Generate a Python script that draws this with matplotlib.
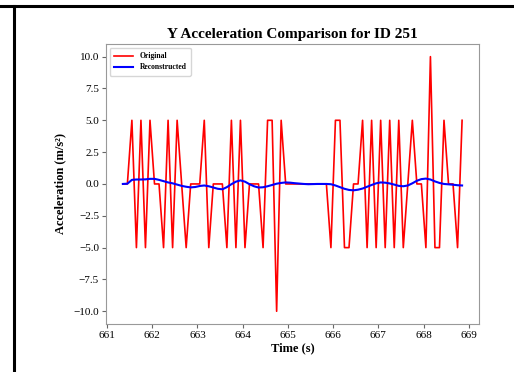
import matplotlib
matplotlib.use("Agg")
from matplotlib import pyplot as plt
from matplotlib.lines import Line2D

plt.rcParams['font.family'] = 'serif'
plt.rcParams['font.serif'] = ['Liberation Serif', 'DejaVu Serif']

# sample times (s)
time = [
    661.35, 661.45, 661.55, 661.65, 661.75, 661.85, 661.95, 662.05, 662.15, 662.25,
    662.35, 662.45, 662.55, 662.65, 662.75, 662.85, 662.95, 663.05, 663.15, 663.25,
    663.35, 663.45, 663.55, 663.65, 663.75, 663.85, 663.95, 664.05, 664.15, 664.25,
    664.35, 664.45, 664.55, 664.65, 664.75, 664.85, 664.95, 665.05, 665.15, 665.25,
    665.35, 665.45, 665.55, 665.65, 665.75, 665.85, 665.95, 666.05, 666.15, 666.25,
    666.35, 666.45, 666.55, 666.65, 666.75, 666.85, 666.95, 667.05, 667.15, 667.25,
    667.35, 667.45, 667.55, 667.65, 667.75, 667.85, 667.95, 668.05, 668.15, 668.25,
    668.35, 668.45, 668.55, 668.65, 668.75, 668.85,
]

original = [
    0, 0, 5, -5, 5, -5, 5, 0, 0, -5,
    5, -5, 5, 0, -5, 0, 0, 0, 5, -5,
    0, 0, 0, -5, 5, -5, 5, -5, 0, 0,
    0, -5, 5, 5, -10, 5, 0, 0, 0, 0,
    0, 0, 0, 0, 0, 0, -5, 5, 5, -5,
    -5, 0, 0, 5, -5, 5, -5, 5, -5, 5,
    -5, 5, -5, 0, 5, 0, 0, -5, 10, -5,
    -5, 5, 0, 0, -5, 5,
]

reconstructed = [
    0.00, 0.02, 0.32, 0.35, 0.35, 0.36, 0.40, 0.40, 0.32, 0.22,
    0.12, 0.05, -0.05, -0.15, -0.22, -0.27, -0.24, -0.16, -0.12, -0.18,
    -0.28, -0.38, -0.42, -0.25, -0.02, 0.18, 0.28, 0.18, -0.02, -0.18,
    -0.28, -0.26, -0.18, -0.08, 0.02, 0.08, 0.12, 0.10, 0.06, 0.03,
    0.00, -0.02, -0.01, 0.00, 0.00, 0.00, -0.02, -0.12, -0.25, -0.38,
    -0.47, -0.50, -0.45, -0.36, -0.22, -0.08, 0.05, 0.12, 0.10, 0.04,
    -0.05, -0.15, -0.18, -0.12, 0.05, 0.25, 0.38, 0.42, 0.35, 0.20,
    0.08, 0.00, -0.03, -0.06, -0.10, -0.12,
]

yticks = [-10.0, -7.5, -5.0, -2.5, 0.0, 2.5, 5.0, 7.5, 10.0]
xticks = [661, 662, 663, 664, 665, 666, 667, 668, 669]

fig = plt.figure(figsize=(5.14, 3.72), dpi=100)
ax = fig.add_axes([0.206, 0.129, 0.726, 0.753])

ax.plot(time, original, color='red', lw=1.2, label='Original')
ax.plot(time, reconstructed, color='blue', lw=1.5, label='Reconstructed')

ax.set_title('Y Acceleration Comparison for ID 251', fontsize=11, fontweight='bold', pad=4)
ax.set_xlabel('Time (s)', fontsize=9, fontweight='bold', labelpad=2)
ax.set_ylabel('Acceleration (m/s²)', fontsize=9, fontweight='bold', labelpad=5)
ax.set_xticks(xticks)
ax.set_yticks(yticks)
ax.set_yticklabels([f"{v:.1f}".replace('-', '\u2212') for v in yticks])
ax.tick_params(labelsize=8, color='0.4', length=3, pad=2)
for s in ax.spines.values():
    s.set_color('0.6')

leg = ax.legend(loc='upper left', prop={'size': 5.5, 'weight': 'bold'},
                handlelength=2.5, borderpad=0.6, labelspacing=0.4)
leg.get_frame().set_edgecolor('0.8')

# page frame lines from the source screenshot
fig.add_artist(Line2D([0, 1], [0.985, 0.985], color='black', lw=2.2))
fig.add_artist(Line2D([0.028, 0.028], [0, 0.985], color='black', lw=2.2))

fig.savefig('out.png', dpi=100)
